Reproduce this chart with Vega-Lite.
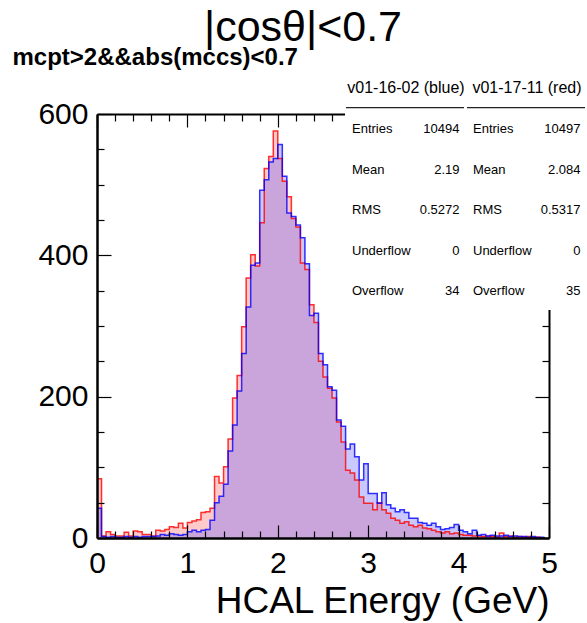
{
  "$schema": "https://vega.github.io/schema/vega-lite/v6.json",
  "width": 452,
  "height": 424,
  "autosize": {"type": "none"},
  "padding": {"left": 97, "top": 114, "right": 38, "bottom": 85},
  "background": "white",
  "config": {"view": {"stroke": null}, "font": "Liberation Sans"},
  "title": {"text": "|cosθ|<0.7", "font": "Liberation Sans", "fontSize": 43, "fontWeight": "normal", "color": "#000", "anchor": "middle", "frame": "group", "dx": -20, "dy": 9},
  "layer": [
    {
      "data": {"values": [
        {"lo": 0, "red": 84, "blue": 42}, {"lo": 0.05, "red": 3, "blue": 2}, {"lo": 0.1, "red": 9, "blue": 1}, {"lo": 0.15, "red": 5, "blue": 2},
        {"lo": 0.2, "red": 3, "blue": 1}, {"lo": 0.25, "red": 3, "blue": 1}, {"lo": 0.3, "red": 8, "blue": 2}, {"lo": 0.35, "red": 3, "blue": 1},
        {"lo": 0.4, "red": 10, "blue": 2}, {"lo": 0.45, "red": 9, "blue": 1}, {"lo": 0.5, "red": 5, "blue": 2}, {"lo": 0.55, "red": 5, "blue": 2},
        {"lo": 0.6, "red": 3, "blue": 2}, {"lo": 0.65, "red": 11, "blue": 3}, {"lo": 0.7, "red": 10, "blue": 5}, {"lo": 0.75, "red": 12, "blue": 4},
        {"lo": 0.8, "red": 16, "blue": 6}, {"lo": 0.85, "red": 15, "blue": 5}, {"lo": 0.9, "red": 21, "blue": 4}, {"lo": 0.95, "red": 14, "blue": 5},
        {"lo": 1.0, "red": 22, "blue": 9}, {"lo": 1.05, "red": 24, "blue": 11}, {"lo": 1.1, "red": 26, "blue": 9}, {"lo": 1.15, "red": 36, "blue": 11},
        {"lo": 1.2, "red": 37, "blue": 12}, {"lo": 1.25, "red": 42, "blue": 25}, {"lo": 1.3, "red": 87, "blue": 50}, {"lo": 1.35, "red": 78, "blue": 59},
        {"lo": 1.4, "red": 101, "blue": 76}, {"lo": 1.45, "red": 140, "blue": 123}, {"lo": 1.5, "red": 198, "blue": 160}, {"lo": 1.55, "red": 230, "blue": 208},
        {"lo": 1.6, "red": 299, "blue": 261}, {"lo": 1.65, "red": 368, "blue": 327}, {"lo": 1.7, "red": 401, "blue": 386}, {"lo": 1.75, "red": 385, "blue": 389},
        {"lo": 1.8, "red": 446, "blue": 492}, {"lo": 1.85, "red": 523, "blue": 507}, {"lo": 1.9, "red": 540, "blue": 532}, {"lo": 1.95, "red": 576, "blue": 537},
        {"lo": 2.0, "red": 537, "blue": 557}, {"lo": 2.05, "red": 505, "blue": 512}, {"lo": 2.1, "red": 483, "blue": 460}, {"lo": 2.15, "red": 452, "blue": 455},
        {"lo": 2.2, "red": 440, "blue": 443}, {"lo": 2.25, "red": 389, "blue": 425}, {"lo": 2.3, "red": 380, "blue": 388}, {"lo": 2.35, "red": 330, "blue": 315},
        {"lo": 2.4, "red": 305, "blue": 318}, {"lo": 2.45, "red": 250, "blue": 261}, {"lo": 2.5, "red": 228, "blue": 245}, {"lo": 2.55, "red": 212, "blue": 214},
        {"lo": 2.6, "red": 198, "blue": 209}, {"lo": 2.65, "red": 164, "blue": 167}, {"lo": 2.7, "red": 136, "blue": 158}, {"lo": 2.75, "red": 96, "blue": 126},
        {"lo": 2.8, "red": 92, "blue": 133}, {"lo": 2.85, "red": 82, "blue": 115}, {"lo": 2.9, "red": 58, "blue": 82}, {"lo": 2.95, "red": 49, "blue": 105},
        {"lo": 3.0, "red": 49, "blue": 63}, {"lo": 3.05, "red": 40, "blue": 63}, {"lo": 3.1, "red": 50, "blue": 49}, {"lo": 3.15, "red": 40, "blue": 64},
        {"lo": 3.2, "red": 35, "blue": 47}, {"lo": 3.25, "red": 28, "blue": 42}, {"lo": 3.3, "red": 25, "blue": 37}, {"lo": 3.35, "red": 21, "blue": 40},
        {"lo": 3.4, "red": 23, "blue": 36}, {"lo": 3.45, "red": 18, "blue": 28}, {"lo": 3.5, "red": 16, "blue": 28}, {"lo": 3.55, "red": 18, "blue": 22},
        {"lo": 3.6, "red": 14, "blue": 21}, {"lo": 3.65, "red": 13, "blue": 18}, {"lo": 3.7, "red": 11, "blue": 21}, {"lo": 3.75, "red": 9, "blue": 16},
        {"lo": 3.8, "red": 7, "blue": 12}, {"lo": 3.85, "red": 9, "blue": 13}, {"lo": 3.9, "red": 6, "blue": 15}, {"lo": 3.95, "red": 7, "blue": 19},
        {"lo": 4.0, "red": 5, "blue": 11}, {"lo": 4.05, "red": 4, "blue": 9}, {"lo": 4.1, "red": 4, "blue": 6}, {"lo": 4.15, "red": 3, "blue": 11},
        {"lo": 4.2, "red": 3, "blue": 4}, {"lo": 4.25, "red": 2, "blue": 5}, {"lo": 4.3, "red": 3, "blue": 3}, {"lo": 4.35, "red": 2, "blue": 4},
        {"lo": 4.4, "red": 1, "blue": 3}, {"lo": 4.45, "red": 7, "blue": 3}, {"lo": 4.5, "red": 2, "blue": 4}, {"lo": 4.55, "red": 3, "blue": 2},
        {"lo": 4.6, "red": 1, "blue": 3}, {"lo": 4.65, "red": 2, "blue": 2}, {"lo": 4.7, "red": 1, "blue": 2}, {"lo": 4.75, "red": 2, "blue": 1},
        {"lo": 4.8, "red": 1, "blue": 2}, {"lo": 4.85, "red": 1, "blue": 1}, {"lo": 4.9, "red": 0, "blue": 1}, {"lo": 4.95, "red": 1, "blue": 1}
      ]},
      "resolve": {"axis": {"x": "independent", "y": "independent"}},
      "layer": [
        {
          "mark": {"type": "area", "interpolate": "step-after", "color": "#ff4040", "opacity": 0.28},
          "encoding": {
            "x": {"field": "lo", "type": "quantitative", "scale": {"domain": [0, 5], "nice": false, "zero": false},
              "axis": {"orient": "bottom", "values": [0, 1, 2, 3, 4, 5], "format": "d", "grid": false, "zindex": 1,
                "domainColor": "#000", "domainWidth": 2.5, "tickColor": "#000", "tickWidth": 1.2, "tickSize": -13,
                "labelFont": "Liberation Sans", "labelFontSize": 30, "labelColor": "#000", "labelPadding": 23, "labelFlush": false, "labelOverlap": false,
                "title": "HCAL Energy (GeV)", "titleFont": "Liberation Sans", "titleFontSize": 37, "titleFontWeight": "normal", "titleColor": "#000",
                "titleAlign": "right", "titleAnchor": "end", "titleBaseline": "alphabetic", "titleX": 452, "titleY": 74}},
            "y": {"field": "red", "type": "quantitative", "scale": {"domain": [0, 600], "nice": false},
              "axis": {"orient": "left", "values": [0, 200, 400, 600], "grid": false, "zindex": 1,
                "domainColor": "#000", "domainWidth": 2.5, "tickColor": "#000", "tickWidth": 1.2, "tickSize": -14,
                "labelFont": "Liberation Sans", "labelFontSize": 30, "labelColor": "#000", "labelPadding": 23, "labelFlush": false, "labelOverlap": false,
                "title": null}}
          }
        },
        {
          "mark": {"type": "area", "interpolate": "step-after", "color": "#5a5aff", "opacity": 0.33},
          "encoding": {
            "x": {"field": "lo", "type": "quantitative",
              "axis": {"orient": "bottom", "values": [0.2, 0.4, 0.6, 0.8, 1.2, 1.4, 1.6, 1.8, 2.2, 2.4, 2.6, 2.8, 3.2, 3.4, 3.6, 3.8, 4.2, 4.4, 4.6, 4.8],
                "grid": false, "zindex": 1, "domain": false, "labels": false, "tickColor": "#000", "tickWidth": 1.2, "tickSize": -7, "title": null}},
            "y": {"field": "blue", "type": "quantitative",
              "axis": {"orient": "left", "values": [50, 100, 150, 250, 300, 350, 450, 500, 550],
                "grid": false, "zindex": 1, "domain": false, "labels": false, "tickColor": "#000", "tickWidth": 1.2, "tickSize": -7, "title": null}}
          }
        },
        {
          "mark": {"type": "line", "interpolate": "step-after", "color": "#ff0000", "strokeWidth": 1.5, "opacity": 0.8},
          "encoding": {
            "x": {"field": "lo", "type": "quantitative",
              "axis": {"orient": "top", "values": [0, 1, 2, 3, 4, 5], "grid": false, "zindex": 0, "labels": false,
                "domainColor": "#000", "domainWidth": 2, "tickColor": "#000", "tickWidth": 1.2, "tickSize": -13,
                "title": "mcpt>2&&abs(mccs)<0.7", "titleFont": "Liberation Sans", "titleFontSize": 24, "titleFontWeight": "bold", "titleColor": "#000",
                "titleAlign": "left", "titleAnchor": "start", "titleBaseline": "alphabetic", "titleX": -85, "titleY": -50}},
            "y": {"field": "red", "type": "quantitative",
              "axis": {"orient": "right", "values": [0, 200, 400, 600], "grid": false, "zindex": 0, "labels": false,
                "domainColor": "#000", "domainWidth": 2, "tickColor": "#000", "tickWidth": 1.2, "tickSize": -14, "title": null}}
          }
        },
        {
          "mark": {"type": "line", "interpolate": "step-after", "color": "#0000ff", "strokeWidth": 1.5, "opacity": 0.8},
          "encoding": {
            "x": {"field": "lo", "type": "quantitative",
              "axis": {"orient": "top", "values": [0.2, 0.4, 0.6, 0.8, 1.2, 1.4, 1.6, 1.8, 2.2, 2.4, 2.6, 2.8, 3.2, 3.4, 3.6, 3.8, 4.2, 4.4, 4.6, 4.8],
                "grid": false, "zindex": 0, "domain": false, "labels": false, "tickColor": "#000", "tickWidth": 1.2, "tickSize": -7, "title": null}},
            "y": {"field": "blue", "type": "quantitative",
              "axis": {"orient": "right", "values": [50, 100, 150, 250, 300, 350, 450, 500, 550],
                "grid": false, "zindex": 0, "domain": false, "labels": false, "tickColor": "#000", "tickWidth": 1.2, "tickSize": -7, "title": null}}
          }
        }
      ]
    },
    {
      "data": {"values": [
        {"col": "v01-16-02 (blue)", "stat": "Entries", "value": "10494"},
        {"col": "v01-16-02 (blue)", "stat": "Mean", "value": "2.19"},
        {"col": "v01-16-02 (blue)", "stat": "RMS", "value": "0.5272"},
        {"col": "v01-16-02 (blue)", "stat": "Underflow", "value": "0"},
        {"col": "v01-16-02 (blue)", "stat": "Overflow", "value": "34"},
        {"col": "v01-17-11 (red)", "stat": "Entries", "value": "10497"},
        {"col": "v01-17-11 (red)", "stat": "Mean", "value": "2.084"},
        {"col": "v01-17-11 (red)", "stat": "RMS", "value": "0.5317"},
        {"col": "v01-17-11 (red)", "stat": "Underflow", "value": "0"},
        {"col": "v01-17-11 (red)", "stat": "Overflow", "value": "35"}
      ]},
      "encoding": {
        "x": {"field": "col", "type": "nominal", "scale": {"type": "point", "domain": ["v01-16-02 (blue)", "v01-17-11 (red)"], "range": [255, 376], "padding": 0}, "axis": null},
        "y": {"field": "stat", "type": "nominal", "scale": {"type": "point", "domain": ["header", "Entries", "Mean", "RMS", "Underflow", "Overflow"], "range": [-21.3, 181], "padding": 0}, "axis": null}
      },
      "layer": [
        {
          "transform": [{"filter": "datum.stat === 'Entries' && datum.col === 'v01-16-02 (blue)'"}],
          "mark": {"type": "rect", "fill": "white", "xOffset": -7, "x2Offset": 114, "yOffset": -25, "y2Offset": 15},
          "encoding": {
            "x": {"datum": "v01-16-02 (blue)"},
            "x2": {"datum": "v01-17-11 (red)"},
            "y": {"datum": "header"},
            "y2": {"datum": "Overflow"}
          }
        },
        {
          "transform": [{"filter": "datum.stat === 'Entries'"}],
          "mark": {"type": "rule", "color": "#222", "strokeWidth": 1.2, "xOffset": -6, "x2Offset": 112, "yOffset": 15},
          "encoding": {
            "x2": {"field": "col"},
            "y": {"datum": "header"}
          }
        },
        {
          "transform": [{"filter": "datum.stat === 'Entries'"}],
          "mark": {"type": "text", "align": "center", "baseline": "alphabetic", "dx": 54, "font": "Liberation Sans", "fontSize": 16, "color": "#000"},
          "encoding": {
            "y": {"datum": "header"},
            "text": {"field": "col"}
          }
        },
        {
          "mark": {"type": "text", "align": "left", "baseline": "alphabetic", "font": "Liberation Sans", "fontSize": 13, "color": "#000"},
          "encoding": {"text": {"field": "stat"}}
        },
        {
          "mark": {"type": "text", "align": "right", "baseline": "alphabetic", "dx": 107.5, "font": "Liberation Sans", "fontSize": 13, "color": "#000"},
          "encoding": {"text": {"field": "value"}}
        }
      ]
    }
  ],
  "resolve": {"scale": {"x": "independent", "y": "independent"}}
}
